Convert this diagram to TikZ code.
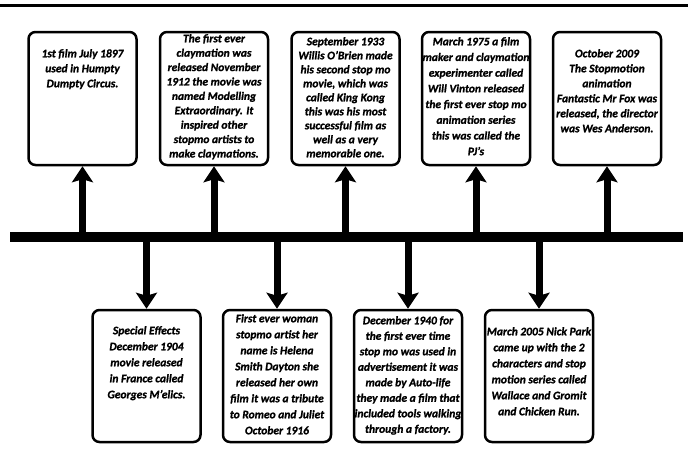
\documentclass[tikz,border=0pt]{standalone}
\usepackage{fontspec}
\setmainfont{Carlito}[BoldItalicFeatures={FakeBold=1.2}]
\usetikzlibrary{arrows.meta,calc}
\begin{document}
\begin{tikzpicture}[x=1pt,y=-1pt,
 box/.style={draw, line width=2.5pt, rounded corners=7pt, minimum width=108pt, minimum height=133pt, inner sep=0pt},
 txt/.style={align=center, inner sep=0pt, anchor=north, font=\bfseries\itshape\fontsize{11.5}{15}\selectfont},
 arr/.style={line width=7pt, -{Stealth[width=21pt,length=16pt,inset=3pt]}},
]
\useasboundingbox (0,0) rectangle (688,469);
\draw[line width=3pt] (0,5.5) -- (688,5.5);
\coordinate (barL) at (10,237);
\coordinate (barR) at (683,237);
\draw[line width=10pt] (barL) -- (barR);

% top boxes
\node[box] (u1) at (82.5,98.5) {};
\node[box] (u2) at (214,98.5) {};
\node[box] (u3) at (345.5,98.5) {};
\node[box] (u4) at (476,98.5) {};
\node[box] (u5) at (607,98.5) {};
% bottom boxes
\node[box,minimum height=132pt] (d1) at (146.5,376) {};
\node[box,minimum height=132pt] (d2) at (277,376) {};
\node[box,minimum height=132pt] (d3) at (408,376) {};
\node[box,minimum height=132pt] (d4) at (539,376) {};

% arrows
\foreach \b in {u1,u2,u3,u4,u5}{\draw[arr] (\b.south |- barL) -- (\b.south);}
\foreach \b in {d1,d2,d3,d4}{\draw[arr] (\b.north |- barL) -- (\b.north);}

% texts
\node[txt] (t1) at (82.5,49) {1st film July 1897\\used in Humpty\\Dumpty Circus.};
\node[txt,font=\bfseries\itshape\fontsize{11.5}{14.4}\selectfont] (t2) at (214,34) {The first ever\\claymation was\\released November\\1912 the movie was\\named Modelling\\Extraordinary. It\\inspired other\\stopmo artists to\\make claymations.};
\node[txt,font=\bfseries\itshape\fontsize{11.5}{14}\selectfont] (t3) at (345.5,37) {September 1933\\Willis O’Brien made\\his second stop mo\\movie, which was\\called King Kong\\this was his most\\successful film as\\well as a very\\memorable one.};
\node[txt,font=\bfseries\itshape\fontsize{11.5}{15.7}\selectfont] (t4) at (476,37) {March 1975 a film\\maker and claymation\\experimenter called\\Will Vinton released\\the first ever stop mo\\animation series\\this was called the\\PJ’s};
\node[txt] (t5) at (607,49) {October 2009\\The Stopmotion\\animation\\Fantastic Mr Fox was\\released, the director\\was Wes Anderson.};

\node[txt,font=\bfseries\itshape\fontsize{11.5}{16}\selectfont] (s1) at (146.5,326) {Special Effects\\December 1904\\movie released\\in France called\\Georges M’elics.};
\node[txt,font=\bfseries\itshape\fontsize{11.5}{16}\selectfont] (s2) at (277,314) {First ever woman\\stopmo artist her\\name is Helena\\Smith Dayton she\\released her own\\film it was a tribute\\to Romeo and Juliet\\October 1916};
\node[txt,font=\bfseries\itshape\fontsize{11.5}{15.5}\selectfont] (s3) at (408,316) {December 1940 for\\the first ever time\\stop mo was used in\\advertisement it was\\made by Auto-life\\they made a film that\\included tools walking\\through a factory.};
\node[txt,font=\bfseries\itshape\fontsize{11.5}{16}\selectfont] (s4) at (539,327) {March 2005 Nick Park\\came up with the 2\\characters and stop\\motion series called\\Wallace and Gromit\\and Chicken Run.};
\end{tikzpicture}
\end{document}
